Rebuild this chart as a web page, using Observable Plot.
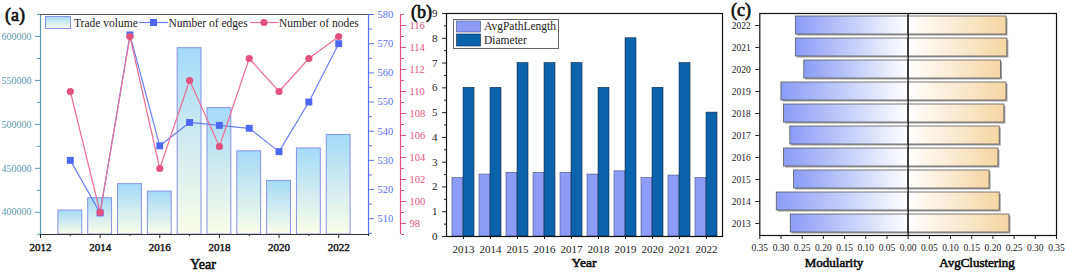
<!DOCTYPE html>
<html><head><meta charset="utf-8">
<script src="https://cdn.jsdelivr.net/npm/d3@7"></script>
<script src="https://cdn.jsdelivr.net/npm/@observablehq/plot@0.6"></script>
<style>
body{margin:0;background:#fff;}
#wrap{position:relative;width:1065px;height:272px;overflow:hidden;font-family:"Liberation Serif",serif;color:#111;}
#wrap > *{position:absolute;}
.plab{font-weight:normal;font-size:18px;line-height:1;-webkit-text-stroke:0.7px #111;}
.atitle{font-weight:normal;line-height:1;text-align:center;-webkit-text-stroke:0.6px #111;}
</style></head><body><div id="wrap"></div>
<script>
// ---------- data ----------
const years = [2013, 2014, 2015, 2016, 2017, 2018, 2019, 2020, 2021, 2022];
const tradeVolume = [402000, 416000, 432000, 423500, 586700, 518500, 469300, 435700, 472600, 488000];
const numEdges = [530, 512, 573, 535, 543, 542, 541, 533, 550, 570];
const numNodes = [110, 99, 115, 103, 111, 105, 113, 110, 113, 115];
const avgPathLength = [2.36, 2.50, 2.57, 2.57, 2.57, 2.50, 2.63, 2.36, 2.46, 2.36];
const diameter = [6, 6, 7, 7, 7, 6, 8, 6, 7, 5];
const modularity = [0.277, 0.310, 0.269, 0.293, 0.278, 0.293, 0.299, 0.245, 0.265, 0.265];
const avgClustering = [0.239, 0.216, 0.192, 0.213, 0.216, 0.227, 0.232, 0.219, 0.234, 0.232];
const tradeTicks = [400000, 450000, 500000, 550000, 600000];
const edgeTicks = [510, 520, 530, 540, 550, 560, 570, 580];
const nodeTicks = [98, 100, 102, 104, 106, 108, 110, 112, 114, 116];
const yearTicksA = [2012, 2014, 2016, 2018, 2020, 2022];
const diaTicks = [0, 1, 2, 3, 4, 5, 6, 7, 8, 9];

const data = years.map((year, i) => ({
  year, trade: tradeVolume[i], edges: numEdges[i], nodes: numNodes[i],
  apl: avgPathLength[i], dia: diameter[i], mod: modularity[i], clu: avgClustering[i]
}));

const FONT = '"Liberation Serif",serif';
const wrap = document.getElementById("wrap");
function place(el, left, top) { el.style.position = "absolute"; el.style.left = left + "px"; el.style.top = top + "px"; wrap.appendChild(el); return el; }
function gradient(svg, id, x2, y2, stops) {
  let defs = d3.select(svg).select("defs");
  if (defs.empty()) defs = d3.select(svg).insert("defs", ":first-child");
  const g = defs.append("linearGradient").attr("id", id).attr("x1", 0).attr("y1", 0).attr("x2", x2).attr("y2", y2);
  stops.forEach(([o, c]) => g.append("stop").attr("offset", o).attr("stop-color", c));
}
function div(cls, text, left, top, width, size) {
  const d = document.createElement("div"); d.className = cls; d.textContent = text;
  if (width) { d.style.width = width + "px"; }
  if (size) d.style.fontSize = size + "px";
  return place(d, left, top);
}
const baseStyle = {fontFamily: FONT, background: "transparent", overflow: "visible", color: "#111"};

// ---------- panel (a) ----------
const A = {width: 420, height: 272, marginLeft: 40, marginRight: 52, marginTop: 14, marginBottom: 38};
const xDomA = [2012, 2023];
const tradeDom = [374700, 625000];
const edgeDom = [504.6, 580];
const nodeDom = [97, 117];
const TEAL = "#5b97ad", BLUE = "#5a6ff2", PINK = "#e3527f";

const a1 = Plot.plot({
  ...A, style: baseStyle,
  x: {domain: xDomA, axis: null},
  y: {domain: tradeDom, axis: null},
  marks: [
    Plot.rectY(data, {x1: d => d.year - 0.4, x2: d => d.year + 0.4, y1: tradeDom[0], y2: "trade", fill: "url(#gradTrade)", stroke: "#8a92e6", strokeWidth: 1}),
    Plot.axisY({ticks: tradeTicks, tickFormat: d => String(d), anchor: "left", color: TEAL, fontSize: 10, tickSize: 5, label: null}),
    Plot.axisY({ticks: d3.range(375000, 625001, 50000), tickFormat: () => "", anchor: "left", color: TEAL, tickSize: 3, label: null}),
    Plot.axisX({ticks: yearTicksA, tickFormat: "d", fontSize: 11, tickSize: 4, label: null, color: "#222", textStroke: "#222", textStrokeWidth: 0.5}),
    Plot.axisX({ticks: [2013, 2015, 2017, 2019, 2021, 2023], tickFormat: () => "", tickSize: 2, label: null, color: "#222"}),
    Plot.ruleX([xDomA[0]], {stroke: TEAL, strokeWidth: 1.2}),
    Plot.ruleY([tradeDom[0]], {stroke: "#333", strokeWidth: 1.2}),
    Plot.ruleY([tradeDom[1]], {stroke: "#555", strokeWidth: 1.2})
  ]
});
gradient(a1, "gradTrade", 0, 1, [[0, "#a4daf7"], [1, "#fbfde9"]]);
place(a1, 0, 0);

const a2 = Plot.plot({
  ...A, style: baseStyle,
  x: {domain: xDomA, axis: null},
  y: {domain: edgeDom, axis: null},
  marks: [
    Plot.ruleX([xDomA[1]], {stroke: BLUE, strokeWidth: 1.2}),
    Plot.axisY({ticks: edgeTicks, tickFormat: d => String(d), anchor: "right", color: BLUE, fontSize: 10.5, tickSize: 5, label: null}),
    Plot.axisY({ticks: d3.range(505, 576, 10), tickFormat: () => "", anchor: "right", color: BLUE, tickSize: 3, label: null}),
    Plot.line(data, {x: "year", y: "edges", stroke: "#6c7ef3", strokeWidth: 1.2}),
    Plot.dot(data, {x: "year", y: "edges", symbol: "square", r: 3.9, fill: "#4d67f0", stroke: "none"})
  ]
});
place(a2, 0, 0);

const a3 = Plot.plot({
  ...A, style: baseStyle,
  x: {domain: xDomA, axis: null},
  y: {domain: nodeDom, axis: null},
  marks: [
    Plot.line(data, {x: "year", y: "nodes", stroke: "#ec6f96", strokeWidth: 1.2}),
    Plot.dot(data, {x: "year", y: "nodes", r: 3.6, fill: PINK, stroke: "none"})
  ]
});
place(a3, 0, 0);

const a4 = Plot.plot({
  width: 420, height: 272, marginLeft: 40, marginRight: 20, marginTop: 14, marginBottom: 38, style: baseStyle,
  x: {domain: [0, 1], axis: null},
  y: {domain: nodeDom, axis: null},
  marks: [
    Plot.ruleX([1], {stroke: PINK, strokeWidth: 1.2}),
    Plot.axisY({ticks: nodeTicks, tickFormat: d => String(d), anchor: "right", color: PINK, fontSize: 10.5, tickSize: 5, label: null}),
    Plot.axisY({ticks: d3.range(97, 118, 2), tickFormat: () => "", anchor: "right", color: PINK, tickSize: 3, label: null})
  ]
});
place(a4, 0, 0);

// legend (a)
(function () {
  const svg = d3.create("svg").attr("width", 420).attr("height", 40).style("overflow", "visible")
    .attr("font-family", FONT).attr("font-size", 11.5);
  gradient(svg.node(), "gradTradeLeg", 0, 1, [[0, "#a4daf7"], [1, "#fbfde9"]]);
  svg.append("rect").attr("x", 45.5).attr("y", 16.5).attr("width", 25).attr("height", 12).attr("fill", "url(#gradTradeLeg)").attr("stroke", "#8a92e6");
  svg.append("text").attr("x", 74).attr("y", 27).attr("fill", "#222").text("Trade volume");
  svg.append("line").attr("x1", 139).attr("x2", 168).attr("y1", 22.5).attr("y2", 22.5).attr("stroke", "#6c7ef3").attr("stroke-width", 1.2);
  svg.append("rect").attr("x", 150).attr("y", 19).attr("width", 7).attr("height", 7).attr("fill", "#4d67f0");
  svg.append("text").attr("x", 168.5).attr("y", 27).attr("fill", "#222").text("Number of edges");
  svg.append("line").attr("x1", 250).attr("x2", 278).attr("y1", 22.5).attr("y2", 22.5).attr("stroke", "#ec6f96").attr("stroke-width", 1.2);
  svg.append("circle").attr("cx", 264).attr("cy", 22.5).attr("r", 3.6).attr("fill", PINK);
  svg.append("text").attr("x", 279).attr("y", 27).attr("fill", "#222").text("Number of nodes");
  place(svg.node(), 0, 0);
})();
div("plab", "(a)", 5, 6);
div("atitle", "Year", 163, 258, 80, 14);

// ---------- panel (b) ----------
const B = {width: 330, height: 272, marginLeft: 46, marginRight: 8, marginTop: 13, marginBottom: 36};
const pIn = 0.2, pOut = 0.1;
const bw = (B.width - B.marginLeft - B.marginRight) / (years.length - pIn + 2 * pOut) * (1 - pIn);
const b1 = Plot.plot({
  ...B, style: baseStyle,
  x: {type: "band", domain: years, paddingInner: pIn, paddingOuter: pOut, axis: null},
  y: {domain: [0, 9], axis: null},
  marks: [
    Plot.barY(data, {x: "year", y: "apl", insetRight: bw / 2, fill: "#8c9cf7", stroke: "#4a4f80", strokeWidth: 0.6}),
    Plot.barY(data, {x: "year", y: "dia", insetLeft: bw / 2, fill: "#0b63ab", stroke: "#10284a", strokeWidth: 0.6}),
    Plot.axisY({ticks: diaTicks, tickFormat: d => String(d), anchor: "left", fontSize: 11, tickSize: 4, label: null, color: "#222"}),
    Plot.axisY({ticks: d3.range(0.5, 9, 1), tickFormat: () => "", anchor: "left", tickSize: 2, label: null, color: "#222"}),
    Plot.axisX({tickFormat: d => String(d), fontSize: 11, tickSize: 3, label: null, color: "#222"}),
    Plot.frame({stroke: "#111", strokeWidth: 1.2})
  ]
});
place(b1, 400, 0);
(function () {
  const svg = d3.create("svg").attr("width", 330).attr("height", 60).style("overflow", "visible")
    .attr("font-family", FONT).attr("font-size", 11.5);
  svg.append("rect").attr("x", 53.5).attr("y", 19.5).attr("width", 105).attr("height", 29).attr("fill", "#fff").attr("stroke", "#666");
  svg.append("rect").attr("x", 56.5).attr("y", 21).attr("width", 24).attr("height", 11).attr("fill", "#8c9cf7").attr("stroke", "#4a4f80").attr("stroke-width", 0.6);
  svg.append("text").attr("x", 84).attr("y", 30).attr("fill", "#222").text("AvgPathLength");
  svg.append("rect").attr("x", 56.5).attr("y", 34).attr("width", 24).attr("height", 12).attr("fill", "#0b63ab").attr("stroke", "#10284a").attr("stroke-width", 0.6);
  svg.append("text").attr("x", 84).attr("y", 44).attr("fill", "#222").text("Diameter");
  place(svg.node(), 400, 0);
})();
div("plab", "(b)", 411, 3);
div("atitle", "Year", 544, 256, 80, 13.5);

// ---------- panel (c) ----------
const C = {width: 345, height: 272, marginLeft: 39.3, marginRight: 9, marginTop: 13, marginBottom: 37};
const c1 = Plot.plot({
  ...C, style: baseStyle,
  x: {domain: [-0.35, 0.35], axis: null},
  y: {type: "band", domain: years.slice().reverse(), paddingInner: 0.2, paddingOuter: 0.1, axis: null},
  marks: [
    Plot.barX(data, {x1: d => -d.mod, x2: 0, y: "year", fill: "#a0a0a0", dx: 1.5, dy: 1.5}),
    Plot.barX(data, {x1: 0, x2: "clu", y: "year", fill: "#a0a0a0", dx: 1.5, dy: 1.5}),
    Plot.barX(data, {x1: d => -d.mod, x2: 0, y: "year", fill: "url(#gradMod)", stroke: "#5a5a5a", strokeWidth: 0.8}),
    Plot.barX(data, {x1: 0, x2: "clu", y: "year", fill: "url(#gradClu)", stroke: "#5a5a5a", strokeWidth: 0.8}),
    Plot.ruleX([0], {stroke: "#111", strokeWidth: 1.3}),
    Plot.axisX({ticks: d3.ticks(-0.35, 0.35, 14), tickFormat: d => Math.abs(d).toFixed(2), fontSize: 9.5, tickSize: 4, label: null, color: "#222"}),
    Plot.axisY({tickFormat: d => String(d), fontSize: 9.5, tickSize: 4, label: null, color: "#222"}),
    Plot.frame({stroke: "#111", strokeWidth: 1.2})
  ]
});
gradient(c1, "gradMod", 1, 0, [[0, "#8a9cf6"], [1, "#ffffff"]]);
gradient(c1, "gradClu", 1, 0, [[0, "#ffffff"], [1, "#f6d6a4"]]);
place(c1, 720, 0);
div("plab", "(c)", 731, 1);
div("atitle", "Modularity", 784, 256, 100, 13);
div("atitle", "AvgClustering", 917, 256, 120, 13);
</script></body></html>
